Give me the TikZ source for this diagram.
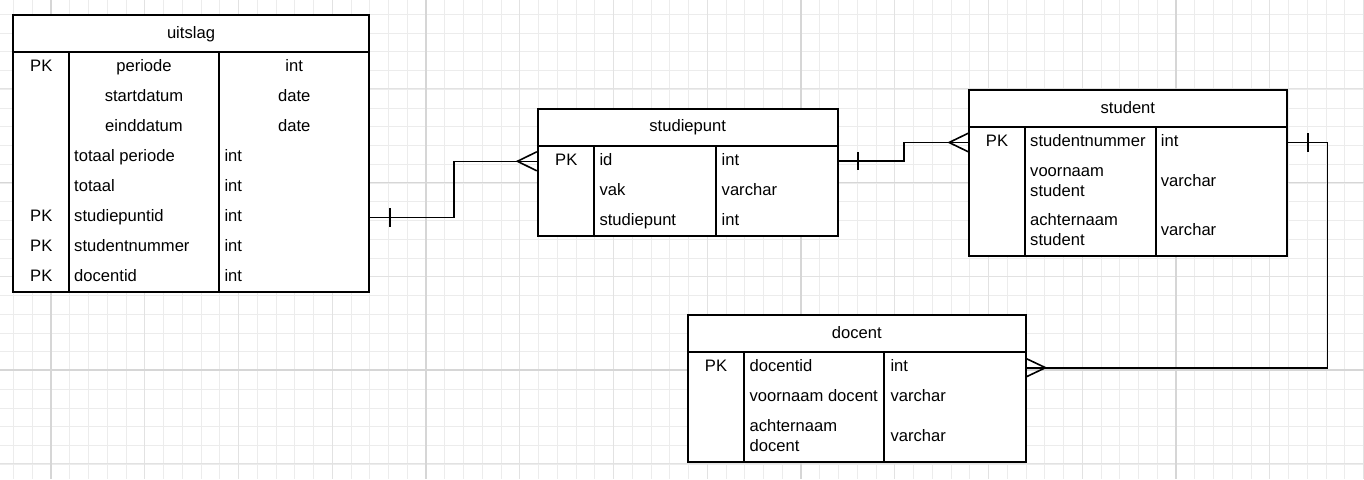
\documentclass[tikz,border=0pt]{standalone}
\usepackage{fontspec}
\usetikzlibrary{calc}
\setmainfont{Liberation Sans}
\definecolor{gridminor}{RGB}{236,236,236}
\definecolor{gridmajor}{RGB}{226,226,226}
\definecolor{griddark}{RGB}{214,214,214}
\begin{document}
\begin{tikzpicture}[x=1pt,y=-1pt,
  every node/.style={font=\fontsize{16.6}{20}\selectfont, inner sep=0pt, text height=11.9pt, text depth=0pt},
  tbl/.style={draw=black, line width=1.8pt, fill=white},
  tl/.style={draw=black, line width=1.8pt},
  lt/.style={anchor=west},
  ct/.style={anchor=center},
  conn/.style={draw=black, line width=1.6pt},
  minor/.style={draw=gridminor, line width=1pt},
  major/.style={draw=gridmajor, line width=1.2pt},
  darkmajor/.style={draw=griddark, line width=1.6pt}]
\useasboundingbox (0,0) rectangle (1364,479);
\fill[white] (0,0) rectangle (1364,479);
% grid
\foreach \i in {0,...,72} \draw[minor] ({13.5+18.75*\i},0) -- ++(0,479);
\foreach \j in {0,...,24} \draw[minor] (0,{14.25+18.75*\j}) -- ++(1364,0);
\foreach \i in {0,...,14} \draw[major] ({51+93.75*\i},0) -- ++(0,479);
\foreach \j in {0,...,4} \draw[major] (0,{88.75+93.75*\j}) -- ++(1364,0);
\foreach \i in {0,...,3} \draw[darkmajor] ({51+375*\i},0) -- ++(0,479);
\draw[darkmajor] (0,182.5) -- ++(1364,0);
\draw[darkmajor] (0,370) -- ++(1364,0);

% ---------- uitslag ----------
\node[tbl, minimum width=356.6pt, minimum height=277.3pt] (uitslag) at (191,153.65) {};
\draw[tl] (uitslag.west |- 0,52.3) -- (uitslag.east |- 0,52.3);
\draw[tl] (69,52.3) -- (69,292.3);
\draw[tl] (219,52.3) -- (219,292.3);
\node[ct] (uT) at (191,32.2) {uitslag};
\node[ct] (u1k) at (41.3,65.8) {PK};
\node[ct] (u1n) at (144,65.8) {periode};
\node[ct] (u1t) at (294.2,65.8) {int};
\node[ct] (u2n) at (144,95.8) {startdatum};
\node[ct] (u2t) at (294.2,95.8) {date};
\node[ct] (u3n) at (144,125.8) {einddatum};
\node[ct] (u3t) at (294.2,125.8) {date};
\node[lt] (u4n) at (74,155.8) {totaal periode};
\node[lt] (u4t) at (224.3,155.8) {int};
\node[lt] (u5n) at (74,185.8) {totaal};
\node[lt] (u5t) at (224.3,185.8) {int};
\node[ct] (u6k) at (41.3,215.8) {PK};
\node[lt] (u6n) at (74,215.8) {studiepuntid};
\node[lt] (u6t) at (224.3,215.8) {int};
\node[ct] (u7k) at (41.3,245.8) {PK};
\node[lt] (u7n) at (74,245.8) {studentnummer};
\node[lt] (u7t) at (224.3,245.8) {int};
\node[ct] (u8k) at (41.3,275.8) {PK};
\node[lt] (u8n) at (74,275.8) {docentid};
\node[lt] (u8t) at (224.3,275.8) {int};

% ---------- studiepunt ----------
\node[tbl, minimum width=300pt, minimum height=126.7pt] (studiepunt) at (687.7,172.35) {};
\draw[tl] (studiepunt.west |- 0,146) -- (studiepunt.east |- 0,146);
\draw[tl] (594.3,146) -- (594.3,235.7);
\draw[tl] (716,146) -- (716,235.7);
\node[ct] (sT) at (687.7,126) {studiepunt};
\node[ct] (s1k) at (566.3,159.5) {PK};
\node[lt] (s1n) at (599.3,159.5) {id};
\node[lt] (s1t) at (721.5,159.5) {int};
\node[lt] (s2n) at (599.3,189.5) {vak};
\node[lt] (s2t) at (721.5,189.5) {varchar};
\node[lt] (s3n) at (599.3,219.5) {studiepunt};
\node[lt] (s3t) at (721.5,219.5) {int};

% ---------- student ----------
\node[tbl, minimum width=317.7pt, minimum height=166pt] (student) at (1127.85,173) {};
\draw[tl] (student.west |- 0,127.3) -- (student.east |- 0,127.3);
\draw[tl] (1025,127.3) -- (1025,256);
\draw[tl] (1155.7,127.3) -- (1155.7,256);
\node[ct] (stT) at (1127.85,107.2) {student};
\node[ct] (st1k) at (997,140.8) {PK};
\node[lt] (st1n) at (1030,140.8) {studentnummer};
\node[lt] (st1t) at (1160.7,140.8) {int};
\node[lt] (st2a) at (1030,170.5) {voornaam};
\node[lt] (st2b) at (1030,190.5) {student};
\node[lt] (st2t) at (1160.7,180.5) {varchar};
\node[lt] (st3a) at (1030,219.8) {achternaam};
\node[lt] (st3b) at (1030,239.8) {student};
\node[lt] (st3t) at (1160.7,229.8) {varchar};

% ---------- docent ----------
\node[tbl, minimum width=337.8pt, minimum height=147.3pt] (docent) at (856.7,388.65) {};
\draw[tl] (docent.west |- 0,352.3) -- (docent.east |- 0,352.3);
\draw[tl] (743.7,352.3) -- (743.7,462.3);
\draw[tl] (884.2,352.3) -- (884.2,462.3);
\node[ct] (dT) at (856.7,332.2) {docent};
\node[ct] (d1k) at (716,365.8) {PK};
\node[lt] (d1n) at (749.4,365.8) {docentid};
\node[lt] (d1t) at (890.3,365.8) {int};
\node[lt] (d2n) at (749.4,395.8) {voornaam docent};
\node[lt] (d2t) at (890.3,395.8) {varchar};
\node[lt] (d3a) at (749.4,425.8) {achternaam};
\node[lt] (d3b) at (749.4,445.8) {docent};
\node[lt] (d3t) at (890.3,435.8) {varchar};

% ---------- connectors ----------
\coordinate (uR) at (uitslag.east |- 0,217.3);
\coordinate (spL) at (studiepunt.west |- 0,161.3);
\coordinate (spR) at (studiepunt.east |- 0,161);
\coordinate (stL) at (student.west |- 0,142.5);
\coordinate (stR) at (student.east |- 0,142.3);
\coordinate (dR) at (docent.east |- 0,367.7);

% uitslag -> studiepunt
\draw[conn] (uR) -- ++(84,0) |- (spL);
\draw[conn] ($(uR)+(19.7,-9.2)$) -- ++(0,18.4);
\draw[conn] ($(spL)+(0,-9.5)$) -- ($(spL)+(-19.4,0)$) -- ($(spL)+(0,9.5)$);

% studiepunt -> student
\draw[conn] (spR) -- ++(65.6,0) |- (stL);
\draw[conn] ($(spR)+(19.6,-9.2)$) -- ++(0,18.4);
\draw[conn] ($(stL)+(0,-9.2)$) -- ($(stL)+(-19,0)$) -- ($(stL)+(0,9.2)$);

% student -> docent
\draw[conn] (stR) -- ++(40,0) |- (dR);
\draw[conn] ($(stR)+(20.6,-9.2)$) -- ++(0,18.4);
\draw[conn] ($(dR)+(0,-9)$) -- ($(dR)+(19,0)$) -- ($(dR)+(0,9)$);
\end{tikzpicture}
\end{document}
